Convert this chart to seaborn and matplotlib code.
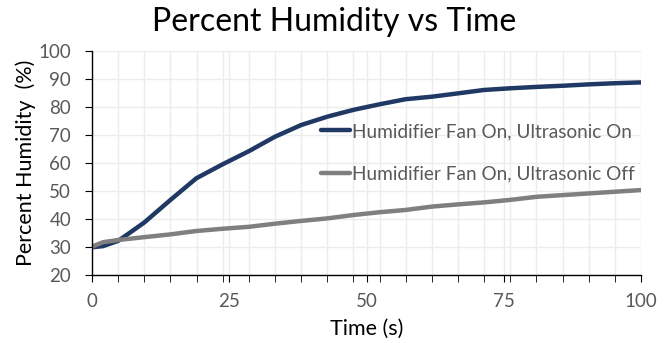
import matplotlib
matplotlib.use("Agg")
import matplotlib.pyplot as plt
import seaborn as sns
import numpy as np
import pandas as pd
from matplotlib.lines import Line2D

# ---- data ----
time_s = [0, 2, 4.8, 9.5, 14.3, 19, 23.8, 28.6, 33.3, 38.1, 42.9, 47.6, 52.4,
          57.1, 61.9, 66.7, 71.4, 76.2, 81, 85.7, 90.5, 95.2, 100]
ultra_on = [30.0, 30.4, 32.3, 38.8, 46.9, 54.6, 59.6, 64.3, 69.4, 73.6, 76.6, 79.0,
            81.0, 82.8, 83.7, 84.9, 86.1, 86.7, 87.2, 87.6, 88.1, 88.5, 88.8]
ultra_off = [30.2, 31.8, 32.6, 33.6, 34.6, 35.8, 36.6, 37.3, 38.4, 39.4, 40.3, 41.5,
             42.5, 43.3, 44.5, 45.3, 46.0, 46.9, 48.0, 48.6, 49.2, 49.8, 50.4]
series_names = ["Humidifier Fan On, Ultrasonic On", "Humidifier Fan On, Ultrasonic Off"]
x_ticks = [0, 25, 50, 75, 100]
y_ticks = [20, 30, 40, 50, 60, 70, 80, 90, 100]
colors = ["#203864", "#7f7f7f"]

df = pd.DataFrame({
    "Time": time_s * 2,
    "Humidity": ultra_on + ultra_off,
    "Series": [series_names[0]] * len(time_s) + [series_names[1]] * len(time_s),
})

sns.set_style("white")
plt.rcParams["font.family"] = ["Lato", "DejaVu Sans"]

fig = plt.figure(figsize=(6.69, 3.43), dpi=100)
ax = fig.add_axes([92 / 669, 1 - 275.3 / 343, (641 - 92) / 669, (275.3 - 51) / 343])

sns.lineplot(data=df, x="Time", y="Humidity", hue="Series", palette=colors,
             linewidth=3.2, ax=ax, legend=False)
for ln in ax.lines:
    ln.set_solid_joinstyle("round")
    ln.set_solid_capstyle("round")

ax.set_xlim(0, 100)
ax.set_ylim(20, 100)
ax.set_xticks(x_ticks)
ax.set_xticks(np.linspace(0, 100, 22), minor=True)
ax.set_yticks(y_ticks)
ax.grid(True, which="both", axis="x", color="#ececec", linewidth=1)
ax.grid(True, which="major", axis="y", color="#ececec", linewidth=1)
ax.set_axisbelow(True)

for s in ["top", "right"]:
    ax.spines[s].set_visible(False)
for s in ["left", "bottom"]:
    ax.spines[s].set_color("#000000")
    ax.spines[s].set_linewidth(1.0)

ax.tick_params(axis="x", which="both", direction="out", length=5, color="#000000",
               bottom=True)
ax.tick_params(axis="x", which="major", pad=8, labelsize=13.5, labelcolor="#595959")
ax.tick_params(axis="y", which="major", direction="out", length=5, color="#000000",
               left=True, pad=10, labelsize=13.5, labelcolor="#595959")

ax.set_xlabel("Time (s)", fontsize=15.5, color="#000000", labelpad=6)
ax.set_ylabel("Percent Humidity  (%)", fontsize=15.5, color="#000000", labelpad=2)
fig.suptitle("Percent Humidity vs Time", fontsize=23, y=0.98, color="#000000")

handles = [Line2D([0], [0], color=c, linewidth=3.2) for c in colors]
leg = ax.legend(handles, series_names, loc="upper left",
                bbox_to_anchor=((321 - 92) / 549, (275.3 - 123) / 224.3),
                frameon=False, fontsize=13.7, handlelength=1.5, handletextpad=0.15,
                labelspacing=1.33, borderaxespad=0, borderpad=0)
for t in leg.get_texts():
    t.set_color("#595959")

fig.savefig("out.png", dpi=100)
